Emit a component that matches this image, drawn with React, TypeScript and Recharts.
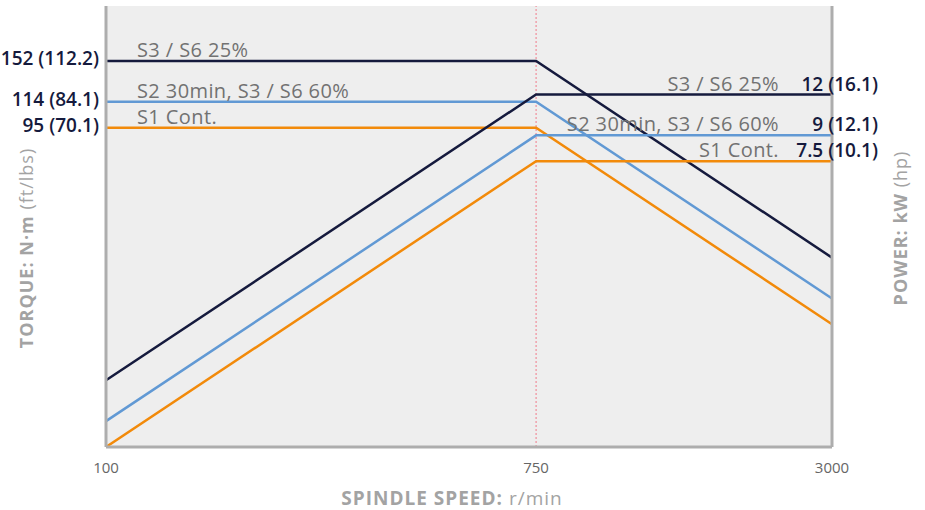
import React from "react"
import {
  ComposedChart,
  Line,
  XAxis,
  YAxis,
  CartesianGrid,
  ReferenceLine,
  Label,
} from "recharts"

// spindle speed (r/min)
const speeds = [100, 750, 3000]

// torque N·m
const torqueS3 = [152, 152, 38]
const torqueS2 = [114, 114, 28.5]
const torqueS1 = [95, 95, 23.75]

// power kW
const powerS3 = [1.6, 12, 12]
const powerS2 = [1.2, 9, 9]
const powerS1 = [1.0, 7.5, 7.5]

const torqueTicks = [152, 114, 95]
const torqueTickLabels = ["152 (112.2)", "114 (84.1)", "95 (70.1)"]
const powerTicks = [12, 9, 7.5]
const powerTickLabels = ["12 (16.1)", "9 (12.1)", "7.5 (10.1)"]

const seriesNames = ["S3 / S6 25%", "S2 30min, S3 / S6 60%", "S1 Cont."]

const NAVY = "#151a3d"
const BLUE = "#6199d4"
const ORANGE = "#f28a0a"
const FONT = "'Open Sans', sans-serif"

const data = speeds.map((s, i) => ({
  speed: s,
  tS3: torqueS3[i],
  tS2: torqueS2[i],
  tS1: torqueS1[i],
  pS3: powerS3[i],
  pS2: powerS2[i],
  pS1: powerS1[i],
}))

const leftLabel = (text: string) => (props: any) =>
  props.index === 0 ? (
    <text x={props.x + 31} y={props.y - 4} fill="#727272" fontSize={20} letterSpacing={0.4} fontFamily={FONT}>
      {text}
    </text>
  ) : null

const rightLabel = (text: string) => (props: any) =>
  props.index === speeds.length - 1 ? (
    <text
      x={props.x - 53}
      y={props.y - 4}
      fill="#727272"
      fontSize={20}
      letterSpacing={0.4}
      fontFamily={FONT}
      textAnchor="end"
    >
      {text}
    </text>
  ) : null

const TorqueTick = (props: any) => {
  const i = torqueTicks.indexOf(props.payload.value)
  return (
    <text x={99} y={props.y + 4} fill={NAVY} fontSize={19} fontWeight={600} fontFamily={FONT} textAnchor="end">
      {torqueTickLabels[i]}
    </text>
  )
}

const PowerTick = (props: any) => {
  const i = powerTicks.indexOf(props.payload.value)
  return (
    <text x={878} y={props.y - 4} fill={NAVY} fontSize={19} fontWeight={600} fontFamily={FONT} textAnchor="end">
      {powerTickLabels[i]}
    </text>
  )
}

const SpeedTick = (props: any) => (
  <text x={props.x} y={props.y + 18} fill="#666" fontSize={15} fontFamily={FONT} textAnchor="middle">
    {props.payload.value}
  </text>
)

export default function App() {
  return (
    <div style={{ position: "absolute", left: 0, top: 0, width: 925, height: 510, background: "#fff" }}>
      <ComposedChart width={925} height={510} data={data} margin={{ top: 6, right: 0, bottom: 0, left: 0 }}>
        <CartesianGrid fill="#eeeeee" horizontal={false} vertical={false} />
        <XAxis
          dataKey="speed"
          type="number"
          scale="log"
          domain={[100, 3000]}
          ticks={speeds}
          tickLine={false}
          axisLine={{ stroke: "#adadad", strokeWidth: 3 }}
          tick={<SpeedTick />}
          height={63}
        >
          <Label
            content={() => (
              <text x={452} y={505} fill="#a3a3a3" fontSize={19} fontFamily={FONT} textAnchor="middle" letterSpacing={1}>
                <tspan fontWeight={700}>SPINDLE SPEED:</tspan>
                <tspan fontWeight={400}> r/min</tspan>
              </text>
            )}
          />
        </XAxis>
        <YAxis
          yAxisId="torque"
          scale="log"
          domain={[10, 224]}
          allowDataOverflow
          ticks={torqueTicks}
          tickLine={false}
          axisLine={{ stroke: "#adadad", strokeWidth: 3 }}
          tick={<TorqueTick />}
          width={106}
        >
          <Label
            content={() => (
              <text
                x={33}
                y={248}
                transform="rotate(-90 33 248)"
                fill="#a3a3a3"
                fontSize={18}
                fontFamily={FONT}
                textAnchor="middle"
                letterSpacing={1}
              >
                <tspan fontWeight={700}>TORQUE: N·m</tspan>
                <tspan fontWeight={400}> (ft/lbs)</tspan>
              </text>
            )}
          />
        </YAxis>
        <YAxis
          yAxisId="power"
          orientation="right"
          scale="log"
          domain={[1, 22.4]}
          allowDataOverflow
          ticks={powerTicks}
          tickLine={false}
          axisLine={{ stroke: "#adadad", strokeWidth: 3 }}
          tick={<PowerTick />}
          width={93}
        >
          <Label
            content={() => (
              <text
                x={907}
                y={228}
                transform="rotate(-90 907 228)"
                fill="#a3a3a3"
                fontSize={18}
                fontFamily={FONT}
                textAnchor="middle"
                letterSpacing={1}
              >
                <tspan fontWeight={700}>POWER: kW</tspan>
                <tspan fontWeight={400}> (hp)</tspan>
              </text>
            )}
          />
        </YAxis>
        <ReferenceLine x={750} yAxisId="torque" stroke="#f07a8a" strokeDasharray="2 2" strokeWidth={1} />
        <Line yAxisId="torque" dataKey="tS3" stroke={NAVY} strokeWidth={2.5} dot={false} isAnimationActive={false} label={leftLabel(seriesNames[0])} />
        <Line yAxisId="torque" dataKey="tS2" stroke={BLUE} strokeWidth={2.5} dot={false} isAnimationActive={false} label={leftLabel(seriesNames[1])} />
        <Line yAxisId="torque" dataKey="tS1" stroke={ORANGE} strokeWidth={2.5} dot={false} isAnimationActive={false} label={leftLabel(seriesNames[2])} />
        <Line yAxisId="power" dataKey="pS3" stroke={NAVY} strokeWidth={2.5} dot={false} isAnimationActive={false} label={rightLabel(seriesNames[0])} />
        <Line yAxisId="power" dataKey="pS2" stroke={BLUE} strokeWidth={2.5} dot={false} isAnimationActive={false} label={rightLabel(seriesNames[1])} />
        <Line yAxisId="power" dataKey="pS1" stroke={ORANGE} strokeWidth={2.5} dot={false} isAnimationActive={false} label={rightLabel(seriesNames[2])} />
      </ComposedChart>
    </div>
  )
}
